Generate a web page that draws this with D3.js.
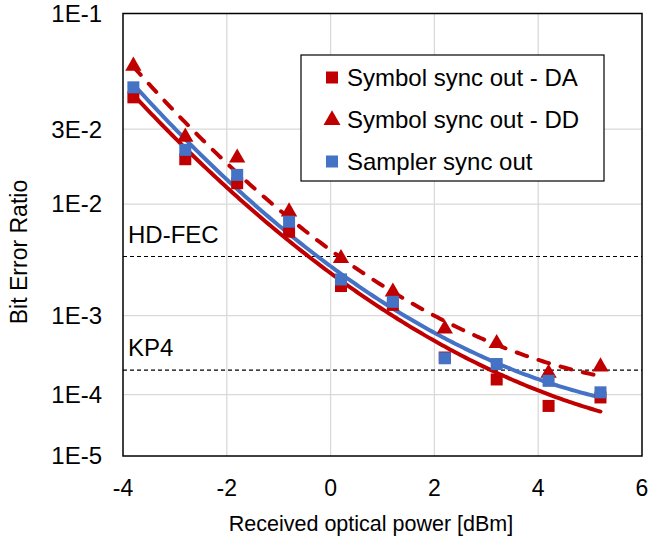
<!DOCTYPE html>
<html>
<head>
<meta charset="utf-8">
<script src="https://cdn.jsdelivr.net/npm/d3@7"></script>
<style>
  body { margin: 0; background: #fff; }
  text { font-family: "Liberation Sans", Arial, sans-serif; fill: #000; }
</style>
</head>
<body>
<div id="chart"></div>
<script>
// received optical power, dBm
const power = [-3.8, -2.8, -1.8, -0.8, 0.2, 1.2, 2.2, 3.2, 4.2, 5.2]
// bit error ratio per series
const berDA      = [0.0440, 0.0200, 0.0140, 0.00614, 0.00202, 0.00130, 3.2e-4, 1.64e-4, 6.8e-5, 9.1e-5]
const berDD      = [0.0616, 0.0271, 0.0204, 0.00878, 0.00366, 0.00177, 7.1e-4, 4.8e-4, 2.0e-4, 2.43e-4]
const berSampler = [0.0492, 0.0228, 0.0159, 0.00737, 0.00234, 0.00140, 3.13e-4, 2.64e-4, 1.57e-4, 1.08e-4]

const seriesNames = ['Symbol sync out - DA', 'Symbol sync out - DD', 'Sampler sync out']

const xTicks = [-4, -2, 0, 2, 4, 6]
const yTicks = [1e-1, 3e-2, 1e-2, 1e-3, 1e-4, 1e-5]
const yTickLabels = ['1E-1', '3E-2', '1E-2', '1E-3', '1E-4', '1E-5']

const limitNames = ['HD-FEC', 'KP4']
const limitBer = [3.8e-3, 2.2e-4]

const width = 670, height = 544
const margin = {left: 123, right: 28, top: 13.5, bottom: 88}

const svg = d3.select('#chart').append('svg')
    .attr('width', width)
    .attr('height', height)

const x = d3.scaleLinear().domain([-4, 6]).range([margin.left, width - margin.right])

// BER axis: linear in log10(-log10(BER))
const tr = b => Math.log10(-Math.log10(b))
const yLin = d3.scaleLinear().domain([tr(1e-1), tr(1e-5)]).range([margin.top, height - margin.bottom])
const y = b => yLin(tr(b))

const red = '#C00000', blue = '#4472C4'

// gridlines
svg.append('g').selectAll('line.h')
    .data(yTicks.slice(1, -1))
    .enter().append('line')
    .attr('x1', x(-4)).attr('x2', x(6))
    .attr('y1', d => y(d)).attr('y2', d => y(d))
    .attr('stroke', '#d9d9d9').attr('stroke-width', 1.3)
svg.append('g').selectAll('line.v')
    .data(xTicks.slice(1, -1))
    .enter().append('line')
    .attr('x1', d => x(d)).attr('x2', d => x(d))
    .attr('y1', y(1e-1)).attr('y2', y(1e-5))
    .attr('stroke', '#d9d9d9').attr('stroke-width', 1.3)

// FEC limits
limitBer.forEach((b, i) => {
    svg.append('line')
        .attr('x1', x(-4)).attr('x2', x(6))
        .attr('y1', y(b)).attr('y2', y(b))
        .attr('stroke', '#000').attr('stroke-width', 1.2)
        .attr('stroke-dasharray', '4,3')
    svg.append('text')
        .attr('x', x(-4) + 5)
        .attr('y', y(b) - 22)
        .attr('dy', '0.35em')
        .attr('font-size', 24)
        .text(limitNames[i])
})

// quadratic trendline in the transformed space
function quadFit(xs, bs) {
    const ts = bs.map(tr)
    let S = [[0,0,0],[0,0,0],[0,0,0]], R = [0,0,0]
    xs.forEach((xv, i) => {
        const p = [1, xv, xv*xv]
        for (let a=0;a<3;a++){
            R[a] += p[a]*ts[i]
            for (let c=0;c<3;c++) S[a][c] += p[a]*p[c]
        }
    })
    // gaussian elimination
    for (let a=0;a<3;a++){
        for (let r=a+1;r<3;r++){
            const f = S[r][a]/S[a][a]
            for (let c=a;c<3;c++) S[r][c] -= f*S[a][c]
            R[r] -= f*R[a]
        }
    }
    const k = [0,0,0]
    for (let a=2;a>=0;a--){
        let s = R[a]
        for (let c=a+1;c<3;c++) s -= S[a][c]*k[c]
        k[a] = s/S[a][a]
    }
    return xv => k[0] + k[1]*xv + k[2]*xv*xv
}

const xs = d3.range(power[0], power[power.length-1] + 0.001, 0.05)
const trendLine = d3.line().x(d => x(d[0])).y(d => yLin(d[1]))

function drawTrend(bs, color, dash) {
    const f = quadFit(power, bs)
    svg.append('path')
        .attr('d', trendLine(xs.map(v => [v, f(v)])))
        .attr('fill', 'none')
        .attr('stroke', color)
        .attr('stroke-width', 4)
        .attr('stroke-linecap', 'round')
        .attr('stroke-dasharray', dash)
}
drawTrend(berDA, red, null)
drawTrend(berDD, red, '11,12')
drawTrend(berSampler, blue, null)

// markers
const sq = 12
const tri = d3.symbol().type(d3.symbolTriangle).size(115)

svg.append('g').selectAll('rect')
    .data(power.map((p, i) => [p, berDA[i]]))
    .enter().append('rect')
    .attr('x', d => x(d[0]) - sq/2).attr('y', d => y(d[1]) - sq/2)
    .attr('width', sq).attr('height', sq)
    .attr('fill', red)

svg.append('g').selectAll('path')
    .data(power.map((p, i) => [p, berDD[i]]))
    .enter().append('path')
    .attr('d', tri)
    .attr('transform', d => `translate(${x(d[0])},${y(d[1])})`)
    .attr('fill', red)

svg.append('g').selectAll('rect')
    .data(power.map((p, i) => [p, berSampler[i]]))
    .enter().append('rect')
    .attr('x', d => x(d[0]) - sq/2).attr('y', d => y(d[1]) - sq/2)
    .attr('width', sq).attr('height', sq)
    .attr('fill', blue)

// plot frame
svg.append('rect')
    .attr('x', x(-4)).attr('y', y(1e-1))
    .attr('width', x(6) - x(-4)).attr('height', y(1e-5) - y(1e-1))
    .attr('fill', 'none').attr('stroke', '#000').attr('stroke-width', 1.5)

// axes labels
svg.append('g').selectAll('text')
    .data(yTicks)
    .enter().append('text')
    .attr('x', x(-4) - 21)
    .attr('y', d => y(d))
    .attr('dy', '0.35em')
    .attr('text-anchor', 'end')
    .attr('font-size', 24)
    .text((d, i) => yTickLabels[i])

svg.append('g').selectAll('text')
    .data(xTicks)
    .enter().append('text')
    .attr('x', d => x(d))
    .attr('y', y(1e-5) + 32)
    .attr('dy', '0.35em')
    .attr('text-anchor', 'middle')
    .attr('font-size', 23)
    .text(d => d)

svg.append('text')
    .attr('x', 371)
    .attr('y', 523)
    .attr('dy', '0.35em')
    .attr('text-anchor', 'middle')
    .attr('font-size', 21.5)
    .text('Received optical power [dBm]')

svg.append('text')
    .attr('transform', 'translate(27,252) rotate(-90)')
    .attr('text-anchor', 'middle')
    .attr('font-size', 23)
    .text('Bit Error Ratio')

// legend
const lg = svg.append('g').attr('transform', 'translate(301,55)')
lg.append('rect')
    .attr('width', 303).attr('height', 126)
    .attr('fill', '#fff').attr('stroke', '#000').attr('stroke-width', 1.2)
const legendRows = [22.5, 65, 106.5]
seriesNames.forEach((name, i) => {
    const g = lg.append('g').attr('transform', `translate(31,${legendRows[i]})`)
    if (i === 1) {
        g.append('path').attr('d', d3.symbol().type(d3.symbolTriangle).size(125)).attr('fill', red)
    } else {
        g.append('rect').attr('x', -6).attr('y', -6).attr('width', 12).attr('height', 12)
            .attr('fill', i === 0 ? red : blue)
    }
    g.append('text')
        .attr('x', 15).attr('dy', '0.35em')
        .attr('font-size', 24)
        .text(name)
})
</script>
</body>
</html>
